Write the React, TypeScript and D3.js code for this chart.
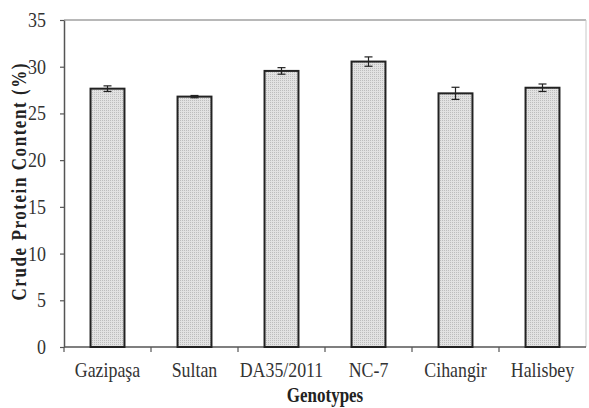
import React, { useRef, useEffect } from 'react'
import * as d3 from 'd3'

const genotypes = ['Gazipaşa', 'Sultan', 'DA35/2011', 'NC-7', 'Cihangir', 'Halisbey']
const protein = [27.65, 26.8, 29.55, 30.55, 27.15, 27.75]
const errors = [0.3, 0.12, 0.35, 0.5, 0.65, 0.4]
const yTicks = [0, 5, 10, 15, 20, 25, 30, 35]

export default function App() {
    const ref = useRef<SVGSVGElement>(null)
    const width = 589
    const height = 408
    const margin = { top: 20, right: 3, bottom: 61, left: 64 }

    useEffect(() => {
        const svg = d3.select(ref.current)
        svg.selectAll('*').remove()

        const font = "'Liberation Serif', Tinos, 'Times New Roman', Times, serif"
        // the original text looks stretched up a bit
        const stretch = 1.2

        // dotted fill like the original
        const defs = svg.append('defs')
        const pat = defs
            .append('pattern')
            .attr('id', 'dots')
            .attr('width', 2)
            .attr('height', 2)
            .attr('patternUnits', 'userSpaceOnUse')
        pat.append('rect').attr('width', 2).attr('height', 2).attr('fill', '#e2e2e2')
        pat.append('rect').attr('x', 0).attr('y', 0).attr('width', 1).attr('height', 1).attr('fill', '#bdbdbd')

        const x = d3
            .scaleBand()
            .domain(genotypes)
            .range([margin.left, width - margin.right])
            .paddingInner(0.61)
            .paddingOuter(0.305)

        const y = d3
            .scaleLinear()
            .domain([0, 35])
            .range([height - margin.bottom, margin.top])

        const x0 = margin.left
        const x1 = width - margin.right
        const step = x.step()

        // frame: top and right light gray
        svg.append('line')
            .attr('x1', x0).attr('x2', x1)
            .attr('y1', y(35)).attr('y2', y(35))
            .attr('stroke', '#a0a0a0').attr('stroke-width', 1.5)
        svg.append('line')
            .attr('x1', x1).attr('x2', x1)
            .attr('y1', y(35)).attr('y2', y(0))
            .attr('stroke', '#c8c8c8').attr('stroke-width', 1)

        // y axis
        const yAxis = svg.append('g')
            .attr('transform', `translate(${x0},0)`)
            .call(d3.axisLeft(y).tickValues(yTicks).tickSize(4).tickPadding(14).tickSizeOuter(0))
        yAxis.select('.domain').attr('stroke', '#555').attr('stroke-width', 1.5)
        yAxis.selectAll('.tick line').attr('stroke', '#555').attr('stroke-width', 1.2)
        yAxis.selectAll('.tick text')
            .attr('dy', '0.3em')
            .attr('transform', `scale(1,${stretch})`)
            .style('font-family', font)
            .style('font-size', '18px')
            .attr('fill', '#333')

        // x axis: ticks between categories
        const xAxis = svg.append('g')
        xAxis.append('line')
            .attr('x1', x0).attr('x2', x1)
            .attr('y1', y(0)).attr('y2', y(0))
            .attr('stroke', '#555').attr('stroke-width', 1.5)
        xAxis.selectAll('line.sep')
            .data(d3.range(genotypes.length))
            .join('line')
            .attr('class', 'sep')
            .attr('x1', (i) => x0 + i * step)
            .attr('x2', (i) => x0 + i * step)
            .attr('y1', y(0))
            .attr('y2', y(0) + 5)
            .attr('stroke', '#555')
            .attr('stroke-width', 1.2)
        xAxis.selectAll('g.lab')
            .data(genotypes)
            .join('g')
            .attr('class', 'lab')
            .attr('transform', (d) => `translate(${(x(d) as number) + x.bandwidth() / 2},${y(0) + 30}) scale(1.05,${stretch})`)
            .append('text')
            .attr('text-anchor', 'middle')
            .style('font-family', font)
            .style('font-size', '17px')
            .attr('fill', '#333')
            .text((d) => d)

        // bars
        svg.append('g')
            .selectAll('rect')
            .data(protein)
            .join('rect')
            .attr('x', (d, i) => x(genotypes[i]) as number)
            .attr('y', (d) => y(d))
            .attr('width', x.bandwidth())
            .attr('height', (d) => y(0) - y(d))
            .attr('fill', 'url(#dots)')
            .attr('stroke', '#222')
            .attr('stroke-width', 2)

        // error bars
        const eb = svg.append('g').attr('stroke', '#222').attr('stroke-width', 1.2)
        protein.forEach((v, i) => {
            const cx = (x(genotypes[i]) as number) + x.bandwidth() / 2
            const e = errors[i]
            eb.append('line').attr('x1', cx).attr('x2', cx).attr('y1', y(v + e)).attr('y2', y(v - e))
            eb.append('line').attr('x1', cx - 4).attr('x2', cx + 4).attr('y1', y(v + e)).attr('y2', y(v + e))
            eb.append('line').attr('x1', cx - 4).attr('x2', cx + 4).attr('y1', y(v - e)).attr('y2', y(v - e))
        })

        // axis titles
        svg.append('text')
            .attr('transform', `translate(26,${(y(0) + y(35)) / 2 - 1.5}) rotate(-90) scale(1,${stretch})`)
            .attr('text-anchor', 'middle')
            .style('font-family', font)
            .style('font-weight', 'bold')
            .style('font-size', '17px')
            .attr('fill', '#222')
            .attr('textLength', 237)
            .attr('lengthAdjust', 'spacing')
            .text('Crude Protein Content (%)')

        svg.append('g')
            .attr('transform', `translate(${(x0 + x1) / 2},402) scale(1,${stretch})`)
            .append('text')
            .attr('text-anchor', 'middle')
            .style('font-family', font)
            .style('font-weight', 'bold')
            .style('font-size', '17px')
            .attr('fill', '#222')
            .text('Genotypes')
    }, [])

    return (
        <svg
            ref={ref}
            width={width}
            height={height}
            style={{ position: 'absolute', left: 0, top: 0, background: '#fff' }}
        ></svg>
    )
}
